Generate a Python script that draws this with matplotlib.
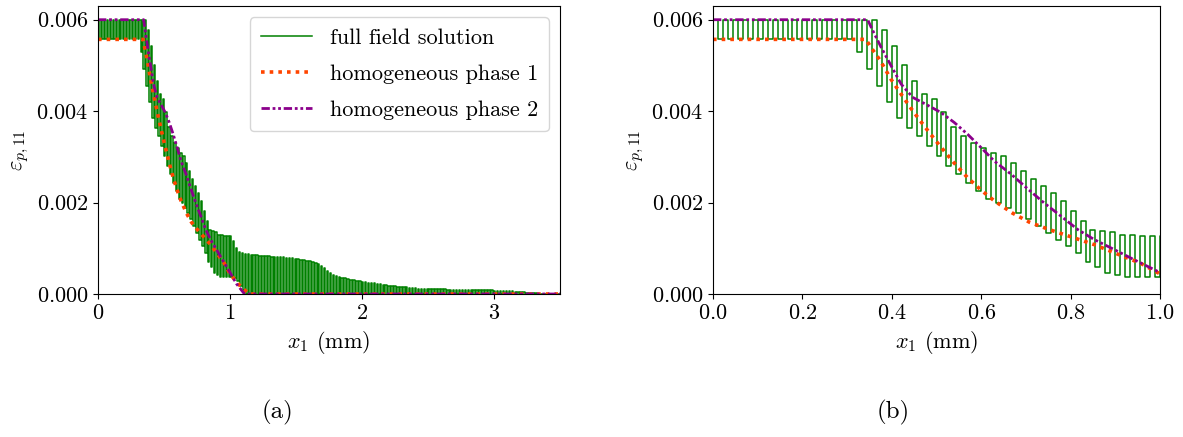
import numpy as np
import matplotlib.pyplot as plt

plt.rcParams['font.family'] = 'serif'
plt.rcParams['font.serif'] = ['cmr10']
plt.rcParams['mathtext.fontset'] = 'cm'
plt.rcParams['axes.formatter.use_mathtext'] = True
plt.rcParams['font.size'] = 16

# full field solution: one value per cell for each phase (x1e-4), cell width 1/45 mm
cell_width = 1.0 / 45
full_high = [60.0] * 14 + [
    60.0, 60.0, 60.0, 57.8, 54.2, 50.1, 46.6, 43.7, 42.6, 39.8,
    36.5, 34.6, 33.1, 32.0, 30.9, 30.2, 28.7, 26.9, 25.1, 23.6,
    22.1, 20.3, 18.1, 15.9, 14.1, 13.7, 13.6, 13.0, 13.0, 12.6,
    12.6,
    12.6, 11.5, 10.0, 9.2, 9.0,
    8.8, 8.7, 8.6, 8.5, 8.5, 8.4, 8.4, 8.3, 8.3,
    8.2, 8.2, 8.1, 8.0, 8.0, 7.9, 7.8, 7.8, 7.7, 7.6,
    7.5, 7.4, 7.3, 7.2, 7.0,
    6.8, 6.5, 6.1, 5.6, 5.0, 4.5, 4.2, 3.9, 3.7, 3.5, 3.4,
    3.2, 3.1, 3.0, 2.9, 2.8, 2.7, 2.6, 2.5, 2.4, 2.3,
    2.2, 2.1, 2.0, 1.9, 1.8, 1.8, 1.7, 1.6, 1.6, 1.5, 1.5, 1.4,
    1.3, 1.3, 1.2, 1.2, 1.2, 1.1, 1.1, 1.1, 1.0, 1.0, 1.0, 1.0, 0.9, 0.9, 0.9, 0.9, 0.9, 0.9,
    0.9, 0.8, 0.8, 0.8, 0.8, 0.8, 0.8, 0.8, 0.8, 0.8, 0.7, 0.7, 0.7, 0.7, 0.6, 0.6,
    0.6, 0.5, 0.5, 0.4, 0.4, 0.3, 0.3, 0.2, 0.2, 0.1,
    0.1, 0.0, 0.0, 0.0, 0.0, 0.0, 0.0]
full_low = [55.7] * 14 + [
    53.0, 49.2, 45.6, 41.9, 38.6, 36.4, 34.6, 32.4, 30.2, 28.0,
    26.2, 24.3, 22.5, 20.7, 20.0, 18.8, 17.7, 16.3, 14.8, 13.3,
    11.9, 10.4, 8.9, 7.1, 6.0, 4.5, 4.2, 3.8, 3.7, 3.8,
    3.8,
    3.8, 3.5, 2.8, 1.8, 0.8] + [0.0] * 108

# homogeneous solutions (x1e-4)
x_phase1 = [0.0, 0.342, 0.353, 0.374, 0.398, 0.421, 0.443, 0.462, 0.484, 0.506,
            0.540, 0.570, 0.600, 0.629, 0.670, 0.708, 0.752, 0.801, 0.853, 0.906,
            0.957, 1.0, 1.05, 1.1, 1.15, 3.5]
eps_phase1 = [55.7, 55.7, 54.0, 51.1, 47.0, 43.7, 40.6, 38.1, 35.3, 32.6,
              28.6, 25.4, 22.7, 20.4, 17.7, 15.7, 14.1, 12.5, 10.8, 8.7,
              6.7, 4.4, 2.6, 1.1, 0.0, 0.0]
x_phase2 = [0.0, 0.346, 0.357, 0.376, 0.398, 0.421, 0.447, 0.480, 0.510, 0.540,
            0.570, 0.600, 0.629, 0.667, 0.704, 0.741, 0.779, 0.816, 0.853, 0.898,
            0.942, 1.0, 1.05, 1.11, 3.5]
eps_phase2 = [60.0, 60.0, 57.7, 54.0, 50.0, 45.9, 43.0, 41.3, 39.7, 37.5,
              34.9, 32.0, 29.1, 26.2, 23.0, 19.9, 17.0, 14.1, 11.9, 9.7,
              7.5, 4.7, 2.2, 0.0, 0.0]

# square wave through the cells
vals = np.column_stack([full_high, full_low]).ravel() * 1e-4
x_full = np.arange(len(vals) + 1) * cell_width / 2
y_full = np.append(vals, vals[-1])
x_full = np.insert(x_full, 0, 0.0)
y_full = np.insert(y_full, 0, 0.0)

fig = plt.figure(figsize=(11.83, 4.37), dpi=100)
ax1 = fig.add_axes([98/1183, 143/437, 462/1183, 288/437])
ax2 = fig.add_axes([713/1183, 143/437, 447/1183, 288/437])

for ax in [ax1, ax2]:
    ax.plot(x_full, y_full, color="green", linewidth=1.1, drawstyle="steps-post",
            label="full field solution")
    ax.plot(x_phase1, np.array(eps_phase1)*1e-4, color="#ff4500", linewidth=2.6,
            linestyle=(0, (1, 1.4)), label="homogeneous phase 1")
    ax.plot(x_phase2, np.array(eps_phase2)*1e-4, color="#8b008b", linewidth=2,
            linestyle=(0, (3, 1, 1, 1, 1, 1)), label="homogeneous phase 2")
    ax.set_ylim([0, 0.0063])
    ax.set_yticks([0, 0.002, 0.004, 0.006])
    ax.set_xlabel(r"$x_1$ (mm)")
    ax.set_ylabel(r"$\varepsilon_{p,11}$")

ax1.set_xlim([0, 3.5])
ax1.set_xticks([0, 1, 2, 3])
ax2.set_xlim([0, 1.0])
ax1.legend(loc="upper right", handlelength=2.3, labelspacing=0.75, borderpad=0.5)

fig.text(278/1183, 1-412/437, "(a)", ha="center", va="center", fontsize=18)
fig.text(893/1183, 1-412/437, "(b)", ha="center", va="center", fontsize=18)

plt.savefig("out.png", dpi=100)
